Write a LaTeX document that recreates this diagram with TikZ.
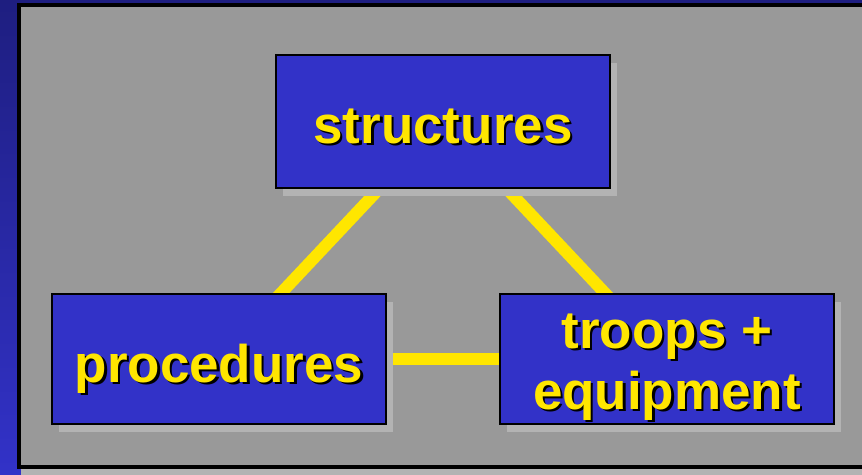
\documentclass[tikz,border=0pt]{standalone}
\usepackage{fontspec}
\setmainfont{Liberation Sans}
\usepackage{tikz}
\usetikzlibrary{shadows,backgrounds}

\definecolor{boxblue}{HTML}{3232C8}
\definecolor{darkblue}{HTML}{1E1E80}
\definecolor{panelgray}{HTML}{999999}
\definecolor{shadegray}{HTML}{B3B3B3}
\definecolor{txtyellow}{HTML}{FFE600}

\newcommand{\shadowed}[1]{\rlap{\kern2.5pt\raisebox{-2.5pt}{\color{black}#1}}#1}

\begin{document}
\begin{tikzpicture}[x=1pt,y=-1pt,
  every node/.style={draw=black,line width=2pt,fill=boxblue,text=txtyellow,
    minimum width=334pt,align=center,
    font=\fontsize{53}{61}\selectfont\bfseries,
    drop shadow={shadow xshift=7pt,shadow yshift=-8pt,fill=shadegray,opacity=1}},
  link/.style={draw=txtyellow,line width=12pt}]
  \useasboundingbox (0,0) rectangle (862,474);

  \node[minimum height=133pt,text height=44pt,text depth=0pt] (str) at (443,121)
    {\shadowed{structures}};
  \node[minimum height=130pt,text height=46pt,text depth=0pt] (proc) at (219,359)
    {\shadowed{procedures}};
  \node[minimum height=130pt,inner sep=1pt] (troop) at (667,359)
    {\rule{0pt}{53pt}\shadowed{troops +}\\\shadowed{equipment}};

  \begin{scope}[on background layer]
    \shade[top color=darkblue,bottom color=boxblue] (0,0) rectangle (862,474);
    \fill[shadegray] (21,10) rectangle (880,480);
    \draw[fill=panelgray,line width=4pt] (19,5) rectangle (880,467);
    \foreach \from/\to in {str/proc,str/troop,proc/troop}
      \draw[link] (\from.center) -- (\to.center);
  \end{scope}

\end{tikzpicture}
\end{document}
